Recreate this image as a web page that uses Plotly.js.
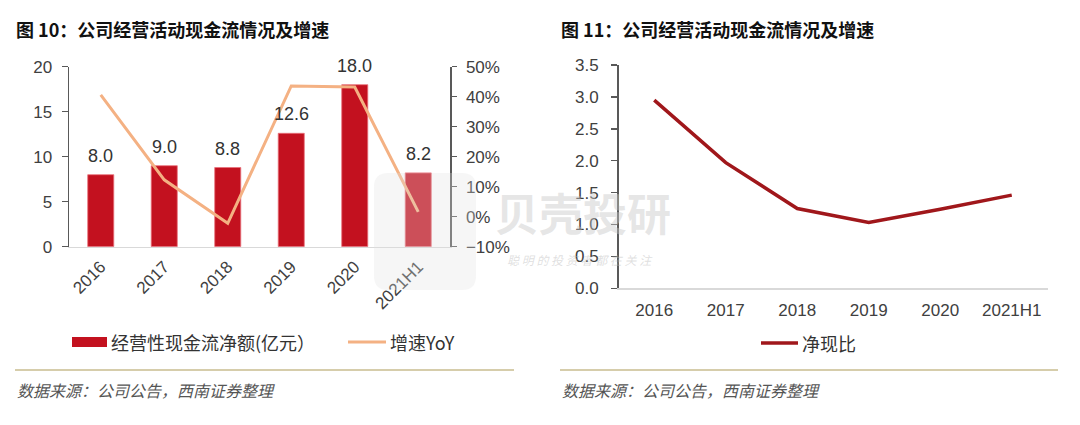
<!DOCTYPE html>
<html>
<head>
<meta charset="utf-8">
<script src="https://cdn.plot.ly/plotly-3.0.1.min.js"></script>
<style>html,body{margin:0;padding:0;background:#fff;}#chart{width:1080px;height:425px;}</style>
</head>
<body>
<div id="chart"></div>
<script>
// ---- data ----
const categories = ['2016', '2017', '2018', '2019', '2020', '2021H1'];
const cashFlow = [8.0, 9.0, 8.8, 12.6, 18.0, 8.2];          // 经营性现金流净额(亿元)
const yoyGrowth = [40.6, 12.3, -2.2, 43.6, 43.2, 1.6];      // 增速YoY (%)
const netCashRatio = [2.95, 1.97, 1.25, 1.03, 1.24, 1.46];  // 净现比
const seriesNames = ['经营性现金流净额(亿元）', '增速YoY', '净现比'];
const titles = ['图 10：公司经营活动现金流情况及增速', '图 11：公司经营活动现金流情况及增速'];
const sourceText = '数据来源：公司公告，西南证券整理';

// ---- helpers ----
const W = 1080, H = 425;
const px = x => x / W;
const py = y => 1 - y / H;
const FONT = 'Arial, "Liberation Sans", "Noto Sans CJK SC", sans-serif';
const CJK = '"Noto Sans CJK SC", "Liberation Sans", sans-serif';
const tickColor = '#404040';
const barColor = '#C3111F';
const yoyColor = '#F4B183';
const ratioColor = '#A0171B';
const ruleColor = '#C9BC8F';
const catRange = [-0.5, categories.length - 0.5];

const traces = [
  {type: 'bar', x: categories, y: cashFlow, name: seriesNames[0], xaxis: 'x', yaxis: 'y',
   marker: {color: barColor, line: {color: '#E8707A', width: 0.8}}, hoverinfo: 'skip'},
  {type: 'scatter', mode: 'lines', x: categories, y: yoyGrowth, name: seriesNames[1], xaxis: 'x', yaxis: 'y2',
   line: {color: yoyColor, width: 3}, hoverinfo: 'skip'},
  {type: 'scatter', mode: 'lines', x: categories, y: netCashRatio, name: seriesNames[2], xaxis: 'x3', yaxis: 'y3',
   line: {color: ratioColor, width: 3.5}, hoverinfo: 'skip'}
];

const annotations = [];
const shapes = [];

// bar value labels (category index positions)
categories.forEach((c, i) => {
  annotations.push({xref: 'x', yref: 'y', x: i, y: cashFlow[i], text: cashFlow[i].toFixed(1),
    yanchor: 'bottom', yshift: 7, showarrow: false, font: {family: FONT, size: 18, color: '#333333'}});
});

// titles
annotations.push({xref: 'paper', yref: 'paper', x: px(14), y: py(29), xanchor: 'left', yanchor: 'middle',
  text: '<b>' + titles[0] + '</b>', showarrow: false, font: {family: CJK, size: 18, color: '#111'}});
annotations.push({xref: 'paper', yref: 'paper', x: px(559), y: py(29), xanchor: 'left', yanchor: 'middle',
  text: '<b>' + titles[1] + '</b>', showarrow: false, font: {family: CJK, size: 18, color: '#111'}});

// left legend
shapes.push({type: 'rect', xref: 'paper', yref: 'paper', x0: px(72), x1: px(107), y0: py(347), y1: py(337),
  fillcolor: barColor, line: {width: 0}});
annotations.push({xref: 'paper', yref: 'paper', x: px(109), y: py(342), xanchor: 'left', yanchor: 'middle',
  text: seriesNames[0], showarrow: false, font: {family: CJK, size: 18, color: '#333'}});
shapes.push({type: 'line', xref: 'paper', yref: 'paper', x0: px(348), x1: px(386), y0: py(342), y1: py(342),
  line: {color: yoyColor, width: 3}});
annotations.push({xref: 'paper', yref: 'paper', x: px(388), y: py(342), xanchor: 'left', yanchor: 'middle',
  text: seriesNames[1], showarrow: false, font: {family: CJK, size: 18, color: '#333'}});

// right legend
shapes.push({type: 'line', xref: 'paper', yref: 'paper', x0: px(761), x1: px(798), y0: py(343), y1: py(343),
  line: {color: ratioColor, width: 3.5}});
annotations.push({xref: 'paper', yref: 'paper', x: px(800), y: py(343), xanchor: 'left', yanchor: 'middle',
  text: seriesNames[2], showarrow: false, font: {family: CJK, size: 18, color: '#333'}});

// rules + source
shapes.push({type: 'line', xref: 'paper', yref: 'paper', x0: px(15), x1: px(514), y0: py(370), y1: py(370),
  line: {color: ruleColor, width: 1.5}});
shapes.push({type: 'line', xref: 'paper', yref: 'paper', x0: px(560), x1: px(1058), y0: py(370), y1: py(370),
  line: {color: ruleColor, width: 1.5}});
annotations.push({xref: 'paper', yref: 'paper', x: px(15), y: py(390), xanchor: 'left', yanchor: 'middle',
  text: '<i>' + sourceText + '</i>', showarrow: false, font: {family: CJK, size: 16, color: '#555'}});
annotations.push({xref: 'paper', yref: 'paper', x: px(560), y: py(390), xanchor: 'left', yanchor: 'middle',
  text: '<i>' + sourceText + '</i>', showarrow: false, font: {family: CJK, size: 16, color: '#555'}});

// faint watermark
shapes.push({type: 'path', xref: 'paper', yref: 'paper', layer: 'above',
  path: `M ${px(388)} ${py(173)} L ${px(462)} ${py(173)} Q ${px(476)} ${py(173)} ${px(476)} ${py(187)} L ${px(476)} ${py(276)} Q ${px(476)} ${py(290)} ${px(462)} ${py(290)} L ${px(388)} ${py(290)} Q ${px(374)} ${py(290)} ${px(374)} ${py(276)} L ${px(374)} ${py(187)} Q ${px(374)} ${py(173)} ${px(388)} ${py(173)} Z`,
  fillcolor: 'rgba(225,225,225,0.30)', line: {width: 0}});
annotations.push({xref: 'paper', yref: 'paper', x: px(583), y: py(212), xanchor: 'center', yanchor: 'middle',
  text: '<b>贝壳投研</b>', showarrow: false, font: {family: CJK, size: 44, color: 'rgba(200,200,200,0.45)'}});
annotations.push({xref: 'paper', yref: 'paper', x: px(580), y: py(259), xanchor: 'center', yanchor: 'middle',
  text: '<i>聪 明 的 投 资 者 都 在 关 注</i>', showarrow: false, font: {family: CJK, size: 12, color: 'rgba(185,185,185,0.45)'}});

const tickFont = {family: FONT, size: 17, color: tickColor};

const layout = {
  width: W, height: H,
  margin: {l: 0, r: 0, t: 0, b: 0},
  paper_bgcolor: '#fff', plot_bgcolor: 'rgba(0,0,0,0)',
  showlegend: false,
  bargap: 0.59,
  font: {family: FONT},
  xaxis: {domain: [px(69), px(450)], anchor: 'y', type: 'category', range: catRange, autorange: false, tickangle: -45,
    showline: true, linecolor: '#D9D9D9', linewidth: 1.5, ticks: '', showgrid: false, zeroline: false,
    tickfont: tickFont, ticklabelstandoff: 2, fixedrange: true},
  yaxis: {domain: [1 - 246.7 / H, 1 - 66.7 / H], anchor: 'x', range: [0, 20], dtick: 5,
    showline: true, linecolor: '#595959', linewidth: 1.5, ticks: 'outside', ticklen: 6, tickcolor: '#595959',
    tickwidth: 1.5, showgrid: false, zeroline: false, tickfont: tickFont, ticklabelstandoff: 6, fixedrange: true},
  yaxis2: {overlaying: 'y', side: 'right', anchor: 'x', range: [-10, 50], dtick: 10, ticksuffix: '%',
    showline: true, linecolor: '#595959', linewidth: 1.5, ticks: 'outside', ticklen: 5, tickcolor: '#595959',
    tickwidth: 1.5, showgrid: false, zeroline: false, tickfont: tickFont, ticklabelstandoff: 6, fixedrange: true},
  xaxis3: {domain: [px(618.5), px(1047.5)], anchor: 'y3', type: 'category', range: catRange, autorange: false,
    showline: true, linecolor: '#D9D9D9', linewidth: 1.5, ticks: '', showgrid: false, zeroline: false,
    tickfont: {family: FONT, size: 17, color: tickColor}, ticklabelstandoff: 6, fixedrange: true},
  yaxis3: {domain: [1 - 288.3 / H, 1 - 65 / H], anchor: 'x3', range: [0, 3.5], dtick: 0.5, tickformat: '.1f',
    showline: true, linecolor: '#595959', linewidth: 1.5, ticks: 'outside', ticklen: 6, tickcolor: '#595959',
    tickwidth: 1.5, showgrid: false, zeroline: false, tickfont: tickFont, ticklabelstandoff: 9, fixedrange: true},
  annotations: annotations,
  shapes: shapes
};

Plotly.newPlot('chart', traces, layout, {staticPlot: true, displayModeBar: false});
</script>
</body>
</html>
